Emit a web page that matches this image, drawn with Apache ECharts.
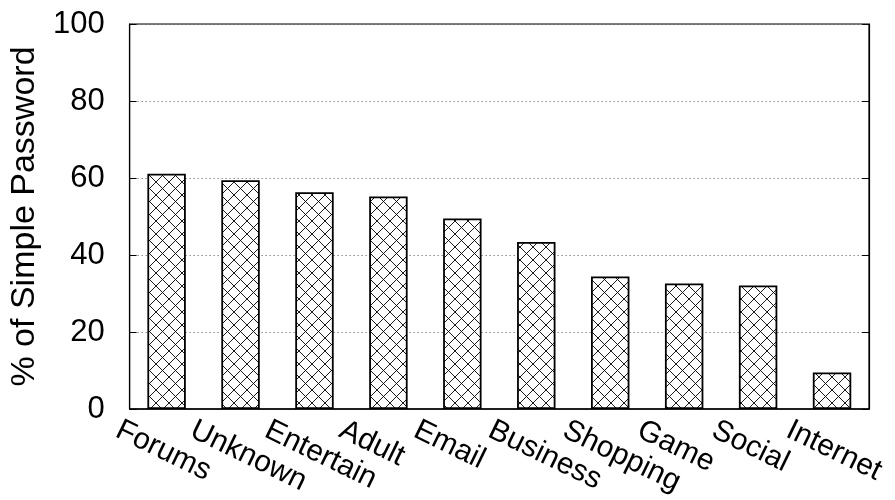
<!DOCTYPE html>
<html><head><meta charset="utf-8">
<script src="https://cdn.jsdelivr.net/npm/echarts@6/dist/echarts.min.js"></script>
<style>html,body{margin:0;padding:0;background:#fff}#c{width:895px;height:500px}</style>
</head><body><div id="c"></div>
<script>
const categories = ['Forums','Unknown','Entertain','Adult','Email','Business','Shopping','Game','Social','Internet'];
const values = [61.1, 59.4, 56.3, 55.2, 49.5, 43.4, 34.4, 32.6, 32.1, 9.5];
const yTicks = [0, 20, 40, 60, 80, 100];
const yTitle = '% of Simple Password';

const tile = document.createElement('canvas');
tile.width = 13; tile.height = 13;
const tc = tile.getContext('2d');
tc.fillStyle = '#fff'; tc.fillRect(0,0,13,13);
tc.strokeStyle = '#000'; tc.lineWidth = 0.9;
tc.beginPath(); tc.moveTo(0,0); tc.lineTo(13,13); tc.moveTo(13,0); tc.lineTo(0,13); tc.stroke();

const font = 'Liberation Sans, Arial, Helvetica, sans-serif';
const chart = echarts.init(document.getElementById('c'));
chart.setOption({
  animation: false,
  backgroundColor: '#fff',
  grid: [
    {left: 124, right: 26, top: 24, bottom: 91, show: true, borderColor: '#000', borderWidth: 1.2},
    {left: 87, right: 63, top: 24, bottom: 91}
  ],
  xAxis: [
    {type: 'category', data: categories, gridIndex: 0,
     axisLine: {lineStyle: {color: '#000', width: 1.5}}, axisTick: {show: false}, axisLabel: {show: false}},
    {type: 'category', data: categories, gridIndex: 1,
     axisLine: {show: false}, axisTick: {show: false},
     axisLabel: {rotate: -26, align: 'left', verticalAlign: 'top', margin: 6, interval: 0,
                 color: '#000', fontSize: 30, fontFamily: font}}
  ],
  yAxis: [
    {type: 'value', min: 0, max: 100, interval: 20, gridIndex: 0,
     name: yTitle, nameLocation: 'middle', nameGap: 80,
     nameTextStyle: {color: '#000', fontSize: 34, fontFamily: font},
     axisLine: {show: true, lineStyle: {color: '#000', width: 1.2}},
     axisTick: {show: true, inside: true, length: 7, lineStyle: {color: '#000'}},
     axisLabel: {color: '#000', fontSize: 31, fontFamily: font, margin: 25,
                 formatter: v => yTicks.includes(v) ? String(v) : ''},
     splitLine: {show: true, lineStyle: {color: '#555', type: [1, 3], width: 1}}},
    {type: 'value', min: 0, max: 100, interval: 20, gridIndex: 0, position: 'right',
     axisLine: {show: true, lineStyle: {color: '#000', width: 1.2}},
     axisTick: {show: true, inside: true, length: 7, lineStyle: {color: '#000'}},
     axisLabel: {show: false}, splitLine: {show: false}},
    {type: 'value', min: 0, max: 100, gridIndex: 1, show: false}
  ],
  series: [{
    type: 'bar', data: values, xAxisIndex: 0, yAxisIndex: 0, barWidth: '52%',
    itemStyle: {color: {image: tile, repeat: 'repeat'}, borderColor: '#000', borderWidth: 1.8}
  }]
});
</script></body></html>
